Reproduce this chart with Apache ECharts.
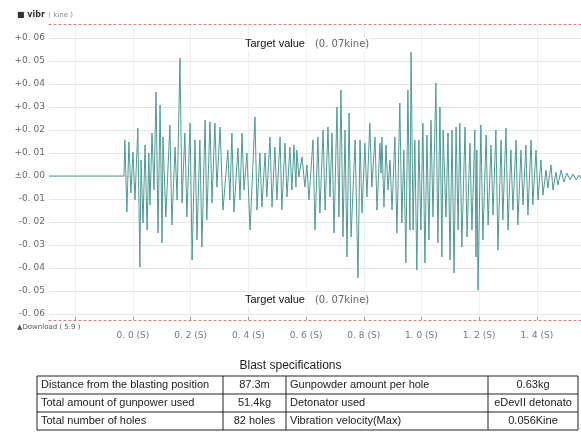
<!DOCTYPE html>
<html><head><meta charset="utf-8">
<script src="https://cdn.jsdelivr.net/npm/echarts@6/dist/echarts.min.js"></script>
<style>html,body{margin:0;padding:0;background:#fff}#c{width:581px;height:435px}</style>
</head><body><div id="c"></div>
<script>
// ---- data ----
const timeSec = [-0.291,-0.031,-0.028,-0.021,-0.014,-0.007,0.000,0.007,0.017,0.024,0.028,0.035,0.042,0.049,0.055,0.059,0.066,0.073,0.080,0.087,0.094,0.101,0.104,0.114,0.128,0.135,0.146,0.153,0.163,0.170,0.180,0.187,0.198,0.205,0.215,0.222,0.232,0.239,0.250,0.256,0.267,0.274,0.284,0.291,0.302,0.312,0.329,0.336,0.343,0.350,0.364,0.371,0.378,0.385,0.395,0.406,0.423,0.430,0.440,0.447,0.458,0.464,0.475,0.482,0.492,0.499,0.510,0.516,0.527,0.534,0.544,0.551,0.558,0.565,0.568,0.575,0.586,0.596,0.603,0.610,0.624,0.631,0.641,0.648,0.659,0.666,0.676,0.683,0.690,0.697,0.707,0.714,0.721,0.728,0.735,0.742,0.749,0.756,0.770,0.780,0.787,0.794,0.804,0.811,0.821,0.828,0.839,0.846,0.856,0.860,0.863,0.870,0.877,0.884,0.891,0.898,0.908,0.915,0.925,0.932,0.939,0.946,0.953,0.960,0.964,0.971,0.977,0.984,0.991,0.998,1.005,1.012,1.019,1.026,1.033,1.040,1.050,1.057,1.064,1.071,1.075,1.085,1.092,1.099,1.106,1.113,1.120,1.127,1.133,1.140,1.151,1.158,1.168,1.175,1.185,1.189,1.192,1.196,1.206,1.213,1.224,1.231,1.241,1.248,1.258,1.265,1.276,1.282,1.293,1.300,1.310,1.317,1.328,1.334,1.345,1.352,1.362,1.369,1.380,1.386,1.397,1.404,1.414,1.421,1.432,1.438,1.449,1.456,1.466,1.473,1.484,1.494,1.504,1.515,1.525,1.536,1.546,1.553];
const velocity = [0,0,0.0157,-0.0157,0.0148,-0.0074,0.0104,-0.0104,0.0209,-0.0396,0.0070,-0.0204,0.0135,-0.0235,0.0100,-0.0126,0.0187,-0.0061,0.0365,-0.0248,0.0309,-0.0291,0.0170,-0.0178,0.0222,-0.0213,0.0126,-0.0104,0.0513,-0.0117,0.0187,-0.0178,0.0230,-0.0365,0.0157,-0.0278,0.0157,-0.0309,0.0243,-0.0191,0.0235,-0.0117,0.0230,-0.0048,0.0213,-0.0148,0.0113,-0.0104,0.0187,-0.0157,0.0122,-0.0104,0.0187,-0.0061,0.0100,-0.0235,0.0257,-0.0148,0.0100,-0.0135,0.0100,-0.0091,0.0170,-0.0135,0.0126,-0.0104,0.0170,-0.0148,0.0143,-0.0091,0.0126,-0.0061,0.0135,-0.0048,0.0113,-0.0004,0.0083,-0.0048,0.0048,-0.0104,0.0157,-0.0235,0.0170,-0.0161,0.0200,-0.0148,0.0213,-0.0091,0.0187,-0.0248,0.0300,-0.0178,0.0374,-0.0265,0.0200,-0.0352,0.0274,-0.0265,0.0157,-0.0443,0.0157,-0.0161,0.0143,-0.0091,0.0230,-0.0048,0.0170,-0.0148,0.0143,0.0013,0.0170,-0.0135,0.0135,-0.0061,0.0070,-0.0148,0.0170,-0.0248,0.0317,-0.0204,0.0113,-0.0378,0.0374,-0.0235,0.0539,-0.0235,0.0157,-0.0409,0.0157,-0.0235,0.0230,-0.0378,0.0178,-0.0278,0.0243,-0.0178,0.0404,-0.0291,0.0300,-0.0352,0.0200,-0.0178,0.0187,-0.0365,0.0200,-0.0422,0.0213,-0.0235,0.0230,-0.0309,0.0213,-0.0265,0.0143,-0.0235,0.0200,-0.0352,0.0113,-0.0496,0.0222,-0.0278,0.0178,-0.0213,0.0135,-0.0170,0.0200,-0.0322,0.0157,-0.0191,0.0209,-0.0235,0.0113,-0.0148,0.0157,-0.0213,0.0113,-0.0126,0.0135,-0.0170,0.0157,-0.0126,0.0113,-0.0104,0.0070,-0.0083,0.0026,-0.0052,0.0048,-0.0061,0.0017,-0.0039,0.0026,-0.0026,0.0013,-0.0017,0.0009,-0.0017,0.0004,-0.0009];
const yTickValues = [-0.06,-0.05,-0.04,-0.03,-0.02,-0.01,0,0.01,0.02,0.03,0.04,0.05,0.06];
const xTickValues = [-0.2,0,0.2,0.4,0.6,0.8,1.0,1.2,1.4];
const xLabelValues = [0,0.2,0.4,0.6,0.8,1.0,1.2,1.4];
const axisTitle = ['■ vibr', '( kine )'];
const targetText = ['Target value', '(0. 07kine)'];
const footNote = '▲Download ( 5.9 )';
const tableTitle = 'Blast specifications';
const tableRows = [
  ['Distance from the blasting position', '87.3m', 'Gunpowder amount per hole', '0.63kg'],
  ['Total amount of gunpower used', '51.4kg', 'Detonator used', 'eDevII detonato'],
  ['Total number of holes', '82 holes', 'Vibration velocity(Max)', '0.056Kine']
];

// ---- chart ----
const seriesData = timeSec.map((t, i) => [t, velocity[i]]);
function fmtY(v) {
  const s = Math.abs(v).toFixed(2).replace('.', '. ');
  if (Math.abs(v) < 1e-9) return '±' + s;
  return (v > 0 ? '+' : '-') + s;
}
function fmtX(v) { return v.toFixed(1).replace('.', '. ') + ' (S)'; }

const colEdges = [37, 223, 286, 488, 578];
const rowTop = 376, rowH = 18;
const graphics = [];
graphics.push({type:'text', left: 17, top: 9, style:{rich:{a:{fontSize:8, fontWeight:'bold', fill:'#333', fontFamily:'DejaVu Sans'}, b:{fontSize:7, fill:'#888', fontFamily:'DejaVu Sans'}}, text:'{a|' + axisTitle[0] + '} {b|' + axisTitle[1] + '}'}});
graphics.push({type:'text', left: 17, top: 324, style:{text: footNote, fontSize:7, fill:'#555', fontFamily:'DejaVu Sans'}});
[38, 294].forEach(y => {
  graphics.push({type:'text', left: 245, top: y, z: 10, style:{
    rich:{a:{fontSize:11, fill:'#111', fontFamily:'Liberation Sans'}, b:{fontSize:10, fill:'#666', fontFamily:'DejaVu Sans'}},
    text:'{a|' + targetText[0] + '}   {b|' + targetText[1] + '}', backgroundColor:'#fff'}});
});
graphics.push({type:'text', left: 'center', top: 360, style:{text: tableTitle, fontSize:12, fill:'#222', fontFamily:'Liberation Sans'}});
for (let r = 0; r <= tableRows.length; r++) {
  graphics.push({type:'line', shape:{x1:colEdges[0], y1:rowTop + r*rowH, x2:colEdges[colEdges.length-1], y2:rowTop + r*rowH}, style:{stroke:'#222', lineWidth:1}});
}
colEdges.forEach(x => {
  graphics.push({type:'line', shape:{x1:x, y1:rowTop, x2:x, y2:rowTop + tableRows.length*rowH}, style:{stroke:'#222', lineWidth:1}});
});
tableRows.forEach((row, r) => {
  row.forEach((cell, c) => {
    const centered = (c % 2 === 1);
    const x = centered ? (colEdges[c] + colEdges[c+1]) / 2 : colEdges[c] + 4;
    graphics.push({type:'text', x: x, y: rowTop + r*rowH + rowH/2, style:{text: cell, fontSize:11, fill:'#222', fontFamily:'Liberation Sans', align: centered ? 'center' : 'left', verticalAlign:'middle'}});
  });
});

const chart = echarts.init(document.getElementById('c'), null, {renderer:'canvas'});
chart.setOption({
  animation: false,
  backgroundColor: '#fff',
  grid: {left: 49, right: 0, top: 24, bottom: 115, containLabel: false},
  xAxis: [{
    type: 'value', min: -0.291, max: 1.553, position: 'bottom',
    axisLine: {show: true, onZero: false, lineStyle: {color: '#e07a7a', type: [2, 3], width: 1}},
    axisTick: {show: true, customValues: xTickValues, length: 3, inside: true, lineStyle: {color: '#999'}},
    axisLabel: {customValues: xLabelValues, formatter: fmtX, color: '#777', fontSize: 9, margin: 11, fontFamily: 'DejaVu Sans'},
    splitLine: {show: true, lineStyle: {color: '#efefef', width: 1}}
  }, {
    type: 'value', min: -0.291, max: 1.553, position: 'top',
    axisLine: {show: true, onZero: false, lineStyle: {color: '#e07a7a', type: [2, 3], width: 1}},
    axisTick: {show: false}, axisLabel: {show: false}, splitLine: {show: false}
  }],
  yAxis: {
    type: 'value', min: -0.0626, max: 0.0661,
    axisLine: {show: false}, axisTick: {show: false, customValues: yTickValues},
    axisLabel: {customValues: yTickValues, formatter: fmtY, color: '#666', fontSize: 9, margin: 4, fontFamily: 'DejaVu Sans'},
    splitLine: {show: true, lineStyle: {color: '#e6e6e6', width: 1}}
  },
  series: [{
    type: 'line', data: seriesData, xAxisIndex: 0, showSymbol: false,
    lineStyle: {color: '#4f9a94', width: 1}, clip: true
  }],
  graphic: graphics
});
</script>
</body></html>
